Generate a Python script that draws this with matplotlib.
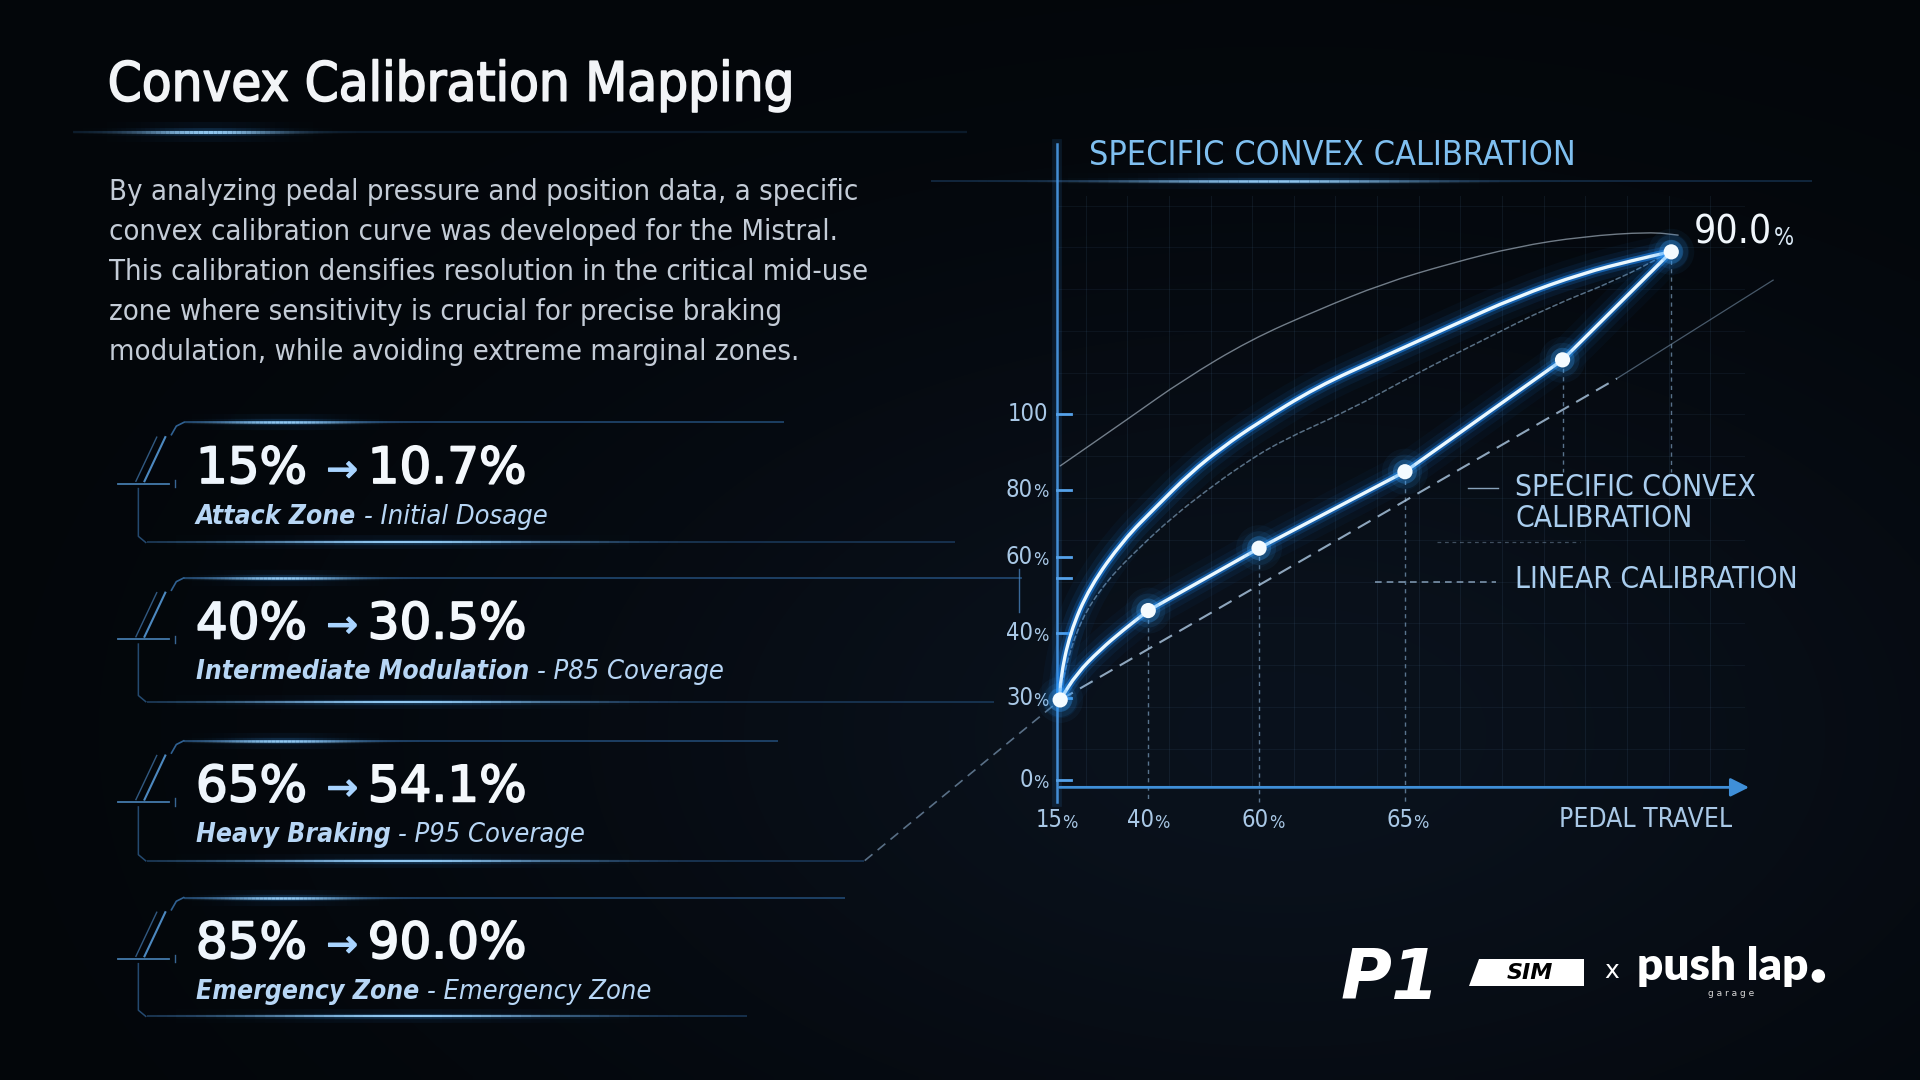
import numpy as np
import matplotlib
matplotlib.use("Agg")
import matplotlib.pyplot as plt
from matplotlib.patches import Polygon, Circle, PathPatch
from matplotlib.path import Path
import matplotlib.patheffects as pe

# ---------------- data ----------------
title = "Convex Calibration Mapping"
paragraph_lines = [
    "By analyzing pedal pressure and position data, a specific",
    "convex calibration curve was developed for the Mistral.",
    "This calibration densifies resolution in the critical mid-use",
    "zone where sensitivity is crucial for precise braking",
    "modulation, while avoiding extreme marginal zones.",
]
card_from = ["15%", "40%", "65%", "85%"]
card_to = ["10.7%", "30.5%", "54.1%", "90.0%"]
card_zone = ["Attack Zone", "Intermediate Modulation", "Heavy Braking", "Emergency Zone"]
card_note = ["Initial Dosage", "P85 Coverage", "P95 Coverage", "Emergency Zone"]

chart_title = "SPECIFIC CONVEX CALIBRATION"
x_tick_labels = ["15%", "40%", "60%", "65%"]
x_tick_pos = [0.0, 13.3, 30.0, 51.0]
y_tick_labels = ["0%", "30%", "40%", "60%", "80%", "100"]
y_tick_pos = [1.1, 13.9, 24.0, 35.8, 46.3, 58.1]
y_extra_tick = [32.6]

# calibration points (markers) read on the drawn axes (0-100 positions)
calib_x = [0.5, 13.3, 29.4, 50.6, 73.5, 89.3]
calib_y = [13.6, 27.5, 37.2, 49.1, 66.5, 83.3]
# traced calibration line (bend between the first two markers)
trace_x = [0.5, 2.9, 6.3, 9.7, 13.3, 29.4, 50.6, 73.5, 89.3]
trace_y = [13.6, 17.7, 21.4, 24.5, 27.5, 37.2, 49.1, 66.5, 83.3]
trace_smooth_n = 5
end_label = "90.0"

# bright convex arc
convex_x = [0.5, 0.5, 1.9, 4.8, 9.7, 14.5, 19.4, 24.2, 29.1, 37.8, 47.5, 57.2, 66.8, 76.5, 83.8, 89.2]
convex_y = [13.6, 16.7, 24.0, 31.2, 38.5, 43.7, 48.9, 53.0, 56.6, 62.3, 67.0, 71.7, 76.3, 80.0, 82.0, 83.3]
# thin outer envelope arc
outer_x = [0.5, 10.6, 18.4, 28.1, 37.8, 47.5, 57.2, 66.8, 76.5, 86.2, 90.3]
outer_y = [50.0, 57.5, 63.4, 69.6, 74.2, 78.4, 81.5, 84.1, 85.7, 86.4, 85.9]
# faint inner arc
inner_x = [0.5, 1.0, 3.4, 7.3, 12.1, 16.9, 21.8, 26.6, 32.4, 42.6, 52.3, 62.0, 71.7, 81.4, 89.2]
inner_y = [13.6, 17.7, 26.0, 32.2, 37.4, 42.1, 46.2, 49.9, 53.8, 58.7, 64.4, 69.6, 74.8, 78.9, 83.3]
# linear calibration reference
linear_x = [0.5, 81.4]
linear_y = [13.6, 63.6]
linear_ext_x = [81.4, 104.1]
linear_ext_y = [63.6, 78.9]
lead_x = [-27.9, 0.5]
lead_y = [-11.4, 13.6]
# lower ends of the vertical drop lines
drop_bottom = [-2.3, -2.3, -2.3, -2.3, 49.0, 49.0]

legend_convex = ["SPECIFIC CONVEX", "CALIBRATION"]
legend_linear = "LINEAR CALIBRATION"
axis_label = "PEDAL TRAVEL"

# ---------------- style ----------------
BG = "#03060a"
plt.rcParams["font.family"] = ["DejaVu Sans", "Noto Sans"]

fig = plt.figure(figsize=(19.2, 10.8), dpi=100, facecolor=BG)
renderer = fig.canvas.get_renderer()

W, H = 1568, 882
bg = fig.add_axes([0, 0, 1, 1])
bg.set_xlim(0, W)
bg.set_ylim(H, 0)
bg.axis("off")
bg.set_facecolor(BG)

gx, gy = np.meshgrid(np.linspace(0, W, 320), np.linspace(0, H, 180))
glow = np.exp(-(((gx - 1050) / 620) ** 2 + ((gy - 600) / 360) ** 2))
img = np.zeros(gx.shape + (4,))
img[..., 0] = 0.10
img[..., 1] = 0.17
img[..., 2] = 0.27
img[..., 3] = 0.32 * glow
bg.imshow(img, extent=(0, W, H, 0), zorder=0, interpolation="bilinear", aspect="auto")


def glow_hline(ax, x0, x1, y, center, spread, lw=1.2, base_alpha=0.25, zorder=2):
    ax.plot([x0, x1], [y, y], color="#2f68a3", lw=lw, alpha=base_alpha, zorder=zorder, solid_capstyle="butt")
    xs = np.linspace(max(x0, center - 2.2 * spread), min(x1, center + 2.2 * spread), 60)
    for i in range(len(xs) - 1):
        xm = 0.5 * (xs[i] + xs[i + 1])
        a = np.exp(-((xm - center) / spread) ** 2)
        ax.plot(xs[i:i + 2], [y, y], color="#2f95ff", lw=lw * 9, alpha=0.06 * a, zorder=zorder, solid_capstyle="butt")
        ax.plot(xs[i:i + 2], [y, y], color="#3aa4ff", lw=lw * 3.5, alpha=0.18 * a, zorder=zorder, solid_capstyle="butt")
        ax.plot(xs[i:i + 2], [y, y], color="#9ed6ff", lw=lw * 1.4, alpha=0.9 * a, zorder=zorder + 0.1, solid_capstyle="butt")


def right_of(ax, t):
    bb = t.get_window_extent(renderer=renderer)
    return ax.transData.inverted().transform((bb.x1, bb.y0))[0]


def width_of(ax, t):
    bb = t.get_window_extent(renderer=renderer)
    inv = ax.transData.inverted()
    return inv.transform((bb.x1, bb.y0))[0] - inv.transform((bb.x0, bb.y0))[0]


def bold_fx(color, w=1.0):
    return [pe.withStroke(linewidth=w, foreground=color)]


# title
bg.text(88, 70, title, color="#f2f4f7", fontsize=39, fontstretch="condensed", va="center", ha="left",
        zorder=5, path_effects=bold_fx("#f2f4f7", 1.2))
glow_hline(bg, 60, 790, 108, 170, 55, lw=1.6, base_alpha=0.2)

# paragraph
for i, line in enumerate(paragraph_lines):
    bg.text(89, 157 + i * 32.6, line, color="#c4ccd7", fontsize=21, fontstretch="condensed",
            va="center", ha="left", zorder=5)

# cards
card_top = [345, 472, 605, 733]
card_bot = [443, 573, 703, 830]
top_end = [640, 835, 635, 690]
bot_end = [780, 812, 706, 610]
line_col = "#3b77b4"
for i in range(4):
    ty, by = card_top[i], card_bot[i]
    glow_hline(bg, 150, top_end[i], ty, 232, 50, lw=1.3, base_alpha=0.6)
    glow_hline(bg, 120, bot_end[i], by, 330, 120, lw=1.1, base_alpha=0.5)
    bg.plot([150, 144, 140], [ty, ty + 3, ty + 10], color=line_col, lw=1.2, alpha=0.8, zorder=3)
    bg.plot([135, 118], [ty + 12, ty + 48], color="#5aa0e0", lw=1.5, alpha=0.85, zorder=3)
    bg.plot([128, 111], [ty + 12, ty + 48], color="#4f8fcf", lw=1.0, alpha=0.6, zorder=3)
    bg.plot([96, 138], [ty + 50, ty + 50], color="#5aa0e0", lw=1.3, alpha=0.75, zorder=3)
    bg.plot([143, 143], [ty + 47, ty + 53], color="#4f8fcf", lw=1.0, alpha=0.7, zorder=3)
    bg.plot([113, 113, 119], [ty + 54, by - 5, by], color=line_col, lw=1.1, alpha=0.6, zorder=3)
    t_a = bg.text(160, ty + 38, card_from[i], color="#eef5fc", fontsize=36,
                  va="center", ha="left", zorder=5, path_effects=bold_fx("#eef5fc", 1.3))
    xa = right_of(bg, t_a)
    t_arr = bg.text(xa + 16, ty + 40, "\u2192", color="#a9d4ff", fontsize=27,
                    va="center", ha="left", zorder=5, path_effects=bold_fx("#a9d4ff", 1.0))
    xb = right_of(bg, t_arr)
    bg.text(xb + 8, ty + 38, card_to[i], color="#f4f8fc", fontsize=36,
            va="center", ha="left", zorder=5, path_effects=bold_fx("#f4f8fc", 1.3))
    t1 = bg.text(160, ty + 77, card_zone[i], color="#b7d6f5", fontsize=19, fontweight="bold",
                 fontstyle="italic", fontstretch="condensed", va="center", ha="left", zorder=5)
    xend = right_of(bg, t1)
    bg.text(xend + 6, ty + 77, "- " + card_note[i], color="#b7d6f5", fontsize=19.5,
            fontstyle="italic", fontstretch="condensed", va="center", ha="left", zorder=5)

bg.plot([832, 832], [465, 500], color="#4f8fcf", lw=1.0, alpha=0.7, zorder=3)

# chart header line + title
glow_hline(bg, 760, 1480, 148, 1040, 110, lw=1.3, base_alpha=0.35)
bg.text(889, 127, chart_title, color="#7fbff0", fontsize=24.5, fontstretch="condensed",
        va="center", ha="left", zorder=5)

# logos (as text)
bg.text(1095, 800, "P1", color="white", fontsize=50, fontweight="heavy", fontstyle="italic",
        va="center", ha="left", zorder=5)
bg.add_patch(Polygon([(1208, 783), (1294, 783), (1294, 805), (1200, 805)], closed=True,
                     facecolor="white", edgecolor="none", zorder=5))
bg.text(1249, 794.5, "SIM", color="black", fontsize=16, fontweight="heavy", fontstyle="italic",
        va="center", ha="center", zorder=6)
bg.text(1316, 793, "x", color="white", fontsize=18, va="center", ha="center", zorder=5)
bg.text(1337, 789, "push lap", color="white", fontsize=33, fontweight="heavy",
        family=["Lato", "DejaVu Sans"], va="center", ha="left", zorder=5)
bg.add_patch(Circle((1485, 797), 5.5, facecolor="white", edgecolor="none", zorder=5))
bg.text(1414, 811, "g a r a g e", color="#d8d8d8", fontsize=6.5, va="center", ha="center", zorder=5)

# ---------------- chart axes ----------------
ax = fig.add_axes([863 / W, 1 - 643 / H, 562 / W, 525 / H])
ax.set_xlim(0, 100)
ax.set_ylim(0, 100)
ax.patch.set_alpha(0)
for s in ax.spines.values():
    s.set_visible(False)
ax.set_xticks([])
ax.set_yticks([])

for gxv in np.arange(4.2, 100, 6.05):
    ax.plot([gxv, gxv], [0, 92], color="#6a9ccc", lw=0.7, alpha=0.10, zorder=1)
for gyv in np.arange(6.0, 92, 6.5):
    ax.plot([0, 100], [gyv, gyv], color="#6a9ccc", lw=0.7, alpha=0.08, zorder=1)

ax.plot([0, 0], [-2.3, 100], color="#4a95dc", lw=1.8, alpha=0.95, zorder=3, clip_on=False)
ax.plot([0, 0], [-2.3, 100], color="#3a95f0", lw=7, alpha=0.12, zorder=3, clip_on=False)
ax.annotate("", xy=(101, 0), xytext=(0, 0),
            arrowprops=dict(arrowstyle="-|>", color="#3f8fd8", lw=2.0, mutation_scale=28),
            zorder=3, annotation_clip=False)

TICK_C = "#a9c8e6"
for p in list(y_tick_pos) + y_extra_tick:
    ax.plot([0, 2.1], [p, p], color="#55a2ea", lw=2.0, zorder=3, clip_on=False)

for p, lab in zip(y_tick_pos, y_tick_labels):
    if lab.endswith("%"):
        tp = ax.text(-1.2, p - 0.4, "%", color=TICK_C, fontsize=13, fontstretch="condensed",
                     ha="right", va="center", zorder=5, clip_on=False)
        wp = width_of(ax, tp)
        ax.text(-1.2 - wp, p, lab[:-1], color=TICK_C, fontsize=17, fontstretch="condensed",
                ha="right", va="center", zorder=5, clip_on=False)
    else:
        ax.text(-1.2, p, lab, color=TICK_C, fontsize=17, fontstretch="condensed",
                ha="right", va="center", zorder=5, clip_on=False)

for p, lab in zip(x_tick_pos, x_tick_labels):
    tn = ax.text(p, -5.1, lab[:-1], color=TICK_C, fontsize=17, fontstretch="condensed",
                 ha="right", va="center", zorder=5, clip_on=False)
    tp = ax.text(p, -5.5, "%", color=TICK_C, fontsize=13, fontstretch="condensed",
                 ha="left", va="center", zorder=5, clip_on=False)
    wn, wp = width_of(ax, tn), width_of(ax, tp)
    shift = (wn - wp) / 2
    tn.set_x(p + shift)
    tp.set_x(p + shift)
ax.text(85.5, -5.1, axis_label, color=TICK_C, fontsize=19, fontstretch="condensed",
        ha="center", va="center", zorder=5, clip_on=False)

for xv, yv, yb in zip(calib_x[1:], calib_y[1:], drop_bottom[1:]):
    ax.plot([xv, xv], [yv, yb], color="#9cc7ee", lw=1.0, ls=(0, (3, 3)), alpha=0.55, zorder=2, clip_on=False)


def smooth_path(xs, ys, n_smooth=None):
    """Quadratic-Bezier smoothing of a traced polyline (rendering only)."""
    pts = list(zip(xs, ys))
    n = len(pts) if n_smooth is None else n_smooth
    sm, rest = pts[:n], pts[n:]
    verts, codes = [sm[0]], [Path.MOVETO]
    if len(sm) >= 3:
        mid = lambda a, b: ((a[0] + b[0]) / 2, (a[1] + b[1]) / 2)
        verts.append(mid(sm[0], sm[1]))
        codes.append(Path.LINETO)
        for i in range(1, len(sm) - 1):
            verts += [sm[i], mid(sm[i], sm[i + 1])]
            codes += [Path.CURVE3, Path.CURVE3]
    verts.append(sm[-1])
    codes.append(Path.LINETO)
    for p in rest:
        verts.append(p)
        codes.append(Path.LINETO)
    return Path(verts, codes)


def draw_path(path, color, lw, alpha=1.0, ls="-", z=3):
    ax.add_patch(PathPatch(path, facecolor="none", edgecolor=color, lw=lw, alpha=alpha, ls=ls,
                           capstyle="round", joinstyle="round", zorder=z, clip_on=False))


def glow_path(path, lw, core="#eaf8ff", color="#1f8fff", z=4, boost=1.0):
    for w, a in [(lw * 11, 0.035), (lw * 7, 0.07), (lw * 4, 0.15), (lw * 2.2, 0.45)]:
        draw_path(path, color, w, alpha=min(1, a * boost), z=z)
    draw_path(path, core, lw, z=z + 0.1)


draw_path(smooth_path(outer_x, outer_y), "#b9c9d8", 1.0, alpha=0.6, z=3)
draw_path(smooth_path(inner_x, inner_y), "#a9d2f5", 1.1, alpha=0.5, ls=(0, (3, 2)), z=3)
glow_path(smooth_path(convex_x, convex_y), 2.4, z=4, boost=1.15)
ax.plot(linear_x, linear_y, color="#b0cce6", lw=1.5, ls=(0, (7, 4)), alpha=0.8, zorder=3, clip_on=False)
ax.plot(linear_ext_x, linear_ext_y, color="#8aa8c4", lw=0.9, alpha=0.5, zorder=3, clip_on=False)
ax.plot(lead_x, lead_y, color="#8fb0d0", lw=1.2, ls=(0, (6, 4)), alpha=0.6, zorder=3, clip_on=False)
glow_path(smooth_path(trace_x, trace_y, trace_smooth_n), 2.4, z=5)

for s, a in [(1100, 0.05), (600, 0.1), (300, 0.25)]:
    ax.scatter(calib_x, calib_y, s=s, color="#3aa6ff", alpha=a, edgecolors="none", zorder=6, clip_on=False)
ax.scatter(calib_x, calib_y, s=120, color="#f4fbff", edgecolors="none", zorder=7, clip_on=False)

t90 = ax.text(92.5, 86.3, end_label, color="#f0f6fb", fontsize=28, fontstretch="condensed",
              ha="left", va="center", zorder=7, clip_on=False)
xe = right_of(ax, t90)
ax.text(xe + 0.4, 85.4, "%", color="#d8e6f2", fontsize=17, fontstretch="condensed",
        ha="left", va="center", zorder=7, clip_on=False)

LEG_C = "#a9cdee"
ax.plot([59.8, 64.1], [46.6, 46.6], color="#a9c8e6", lw=1.0, alpha=0.8, zorder=5, clip_on=False)
ax.text(66.6, 46.6, legend_convex[0], color=LEG_C, fontsize=21.5, fontstretch="condensed",
        ha="left", va="center", zorder=6, clip_on=False)
ax.text(66.6, 41.8, legend_convex[1], color=LEG_C, fontsize=21.5, fontstretch="condensed",
        ha="left", va="center", zorder=6, clip_on=False)
ax.plot([55.2, 76.0], [38.2, 38.2], color="#a9c8e6", lw=0.9, ls=(0, (3, 3)), alpha=0.35, zorder=5, clip_on=False)
ax.plot([46.3, 63.9], [32.0, 32.0], color="#a9c8e6", lw=1.2, ls=(0, (4, 3)), alpha=0.7, zorder=5, clip_on=False)
ax.text(66.6, 32.3, legend_linear, color=LEG_C, fontsize=21.5, fontstretch="condensed",
        ha="left", va="center", zorder=6, clip_on=False)

fig.savefig("out.png", dpi=100, facecolor=BG)
